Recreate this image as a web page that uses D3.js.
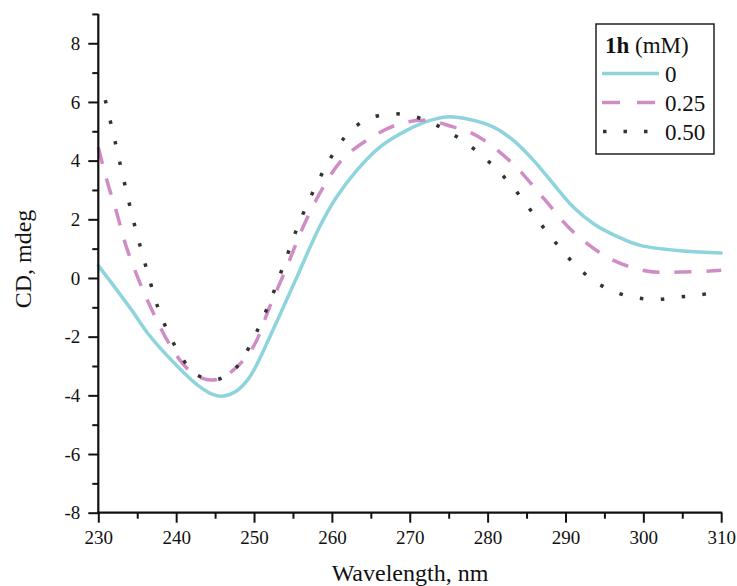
<!DOCTYPE html>
<html><head><meta charset="utf-8">
<script src="https://cdn.jsdelivr.net/npm/d3@7/dist/d3.min.js"></script>
<style>body{margin:0;background:#fff}svg{display:block}</style>
</head><body>
<svg id="chart" width="737" height="586"></svg>
<script>
const wl0 = [230, 232.1, 234.3, 236.4, 238.6, 240.7, 242.8, 244.6, 245.9, 247.6, 249.3, 250.3, 252.9, 255.5, 258.3, 260.6, 263.2, 266.2, 269.6, 272.6, 274.8, 277.7, 280.7, 283.3, 285.9, 288.4, 291.0, 293.6, 296.6, 299.6, 305.1, 310];
const cd0 = [0.42, -0.31, -1.10, -1.9, -2.58, -3.15, -3.66, -3.96, -4.03, -3.88, -3.43, -2.98, -1.5, 0.03, 1.68, 2.76, 3.67, 4.47, 5.03, 5.37, 5.49, 5.4, 5.15, 4.69, 4.01, 3.22, 2.42, 1.85, 1.42, 1.11, 0.92, 0.85];
const wl1 = [230, 231.1, 232.4, 233.6, 235.4, 237.1, 239.2, 241.4, 243.5, 245.2, 247.3, 249.9, 252.0, 254.2, 256.3, 258.9, 261.5, 265.3, 268.8, 272.2, 275.2, 278.6, 283.3, 287.2, 291.0, 295.7, 300.4, 304.7, 310];
const cd1 = [4.45, 3.33, 2.19, 1.06, -0.2, -1.21, -2.28, -3.08, -3.43, -3.46, -3.15, -2.35, -0.99, 0.37, 1.74, 3.10, 4.08, 4.83, 5.26, 5.37, 5.18, 4.85, 3.88, 2.71, 1.57, 0.66, 0.24, 0.2, 0.26];
const wl2 = [230.9, 232.2, 233.4, 234.7, 236.1, 237.7, 238.8, 240.3, 242.4, 245.2, 247.9, 249.5, 251.9, 253.9, 255.9, 258.3, 259.7, 261.5, 264.0, 266.7, 269.4, 272.1, 274.8, 277.5, 280.2, 282.7, 284.8, 286.8, 288.9, 291.2, 293.9, 296.6, 299.2, 301.9, 304.6, 307.3, 310];
const cd2 = [6.06, 4.6, 3.19, 1.76, 0.4, -1.04, -1.75, -2.52, -3.26, -3.46, -3.0, -2.29, -0.9, 0.51, 1.94, 3.33, 4.03, 4.75, 5.34, 5.57, 5.57, 5.37, 5.01, 4.55, 3.95, 3.27, 2.57, 1.85, 1.15, 0.46, -0.14, -0.5, -0.68, -0.73, -0.65, -0.57, -0.46];
const seriesLabels = ["0", "0.25", "0.50"];
const xTicks = [230, 240, 250, 260, 270, 280, 290, 300, 310];
const yTicks = [-8, -6, -4, -2, 0, 2, 4, 6, 8];
const legendTitleBold = "1h";
const legendTitleRest = " (mM)";
const xLabel = "Wavelength, nm";
const yLabel = "CD, mdeg";

(function () {
const svg = d3.select("#chart");
const font = "'Liberation Serif','Times New Roman',serif";
const mLeft = 98.3, mRight = 721.2, mBottom = 512.7;
const x = d3.scaleLinear().domain([230, 310]).range([mLeft, mRight]);
const y = d3.scaleLinear().domain([-8, 9]).range([mBottom, mBottom - 17 * 29.34]);

const styles = [
  {color: "#8dd4dd", dash: null, cap: "round"},
  {color: "#d08cc4", dash: "17,15", cap: "butt"},
  {color: "#333333", dash: "3.5,17.5", cap: "butt"}
];
const data = [[wl0, cd0], [wl1, cd1], [wl2, cd2]];

const line = d3.line().x(d => x(d[0])).y(d => y(d[1])).curve(d3.curveCatmullRom.alpha(0.5));
data.forEach((s, i) => {
  const pts = s[0].map((w, j) => [w, s[1][j]]);
  svg.append("path").datum(pts).attr("d", line)
    .attr("fill", "none").attr("stroke", styles[i].color)
    .attr("stroke-width", 3.5).attr("stroke-linecap", styles[i].cap)
    .attr("stroke-linejoin", "round")
    .attr("stroke-dasharray", styles[i].dash);
});

const fmt = d => String(d);
const xAxisMinor = d3.axisBottom(x).tickValues(d3.range(235, 310, 10)).tickSize(6).tickFormat("");
const xAxis = d3.axisBottom(x).tickValues(xTicks).tickSize(10).tickPadding(8).tickFormat(fmt);
const gx = svg.append("g").attr("transform", `translate(0,${mBottom})`).call(xAxisMinor);
const gx2 = svg.append("g").attr("transform", `translate(0,${mBottom})`).call(xAxis);
[gx, gx2].forEach(g => {
  g.select(".domain").remove();
  g.selectAll("line").attr("stroke", "#111").attr("stroke-width", 2);
  g.selectAll("text").attr("font-family", font).attr("font-size", 19).attr("fill", "#111");
});
svg.append("line").attr("x1", mLeft - 1).attr("x2", mRight + 1).attr("y1", mBottom).attr("y2", mBottom)
  .attr("stroke", "#111").attr("stroke-width", 2.2);

const yAxisMinor = d3.axisLeft(y).tickValues(d3.range(-7, 10, 2)).tickSize(6).tickFormat("");
const yAxis = d3.axisLeft(y).tickValues(yTicks).tickSize(10).tickPadding(8).tickFormat(fmt);
const gy = svg.append("g").attr("transform", `translate(${mLeft},0)`).call(yAxisMinor);
const gy2 = svg.append("g").attr("transform", `translate(${mLeft},0)`).call(yAxis);
[gy, gy2].forEach(g => {
  g.select(".domain").remove();
  g.selectAll("line").attr("stroke", "#111").attr("stroke-width", 2);
  g.selectAll("text").attr("font-family", font).attr("font-size", 19).attr("fill", "#111");
});
svg.append("line").attr("x1", mLeft).attr("x2", mLeft).attr("y1", y(9)).attr("y2", mBottom + 1)
  .attr("stroke", "#111").attr("stroke-width", 2.2);

svg.append("text").attr("x", 410).attr("y", 581).attr("text-anchor", "middle")
  .attr("font-family", font).attr("font-size", 24).attr("fill", "#111").text(xLabel);
svg.append("text").attr("transform", `translate(31,259) rotate(-90)`).attr("text-anchor", "middle")
  .attr("font-family", font).attr("font-size", 24).attr("fill", "#111").text(yLabel);

const lg = svg.append("g");
lg.append("rect").attr("x", 596).attr("y", 24).attr("width", 118).attr("height", 130)
  .attr("fill", "#fff").attr("stroke", "#222").attr("stroke-width", 1.5);
const title = lg.append("text").attr("x", 605).attr("y", 53).attr("font-family", font)
  .attr("font-size", 23).attr("fill", "#111");
title.append("tspan").attr("font-weight", "bold").text(legendTitleBold);
title.append("tspan").text(legendTitleRest);
seriesLabels.forEach((lab, i) => {
  const yy = 73.5 + i * 29;
  lg.append("line").attr("x1", 602).attr("x2", 659).attr("y1", yy).attr("y2", yy)
    .attr("stroke", styles[i].color).attr("stroke-width", 3.5)
    .attr("stroke-dasharray", i === 1 ? "18,17" : (i === 2 ? "3.5,17" : null))
    .attr("stroke-dashoffset", i === 2 ? -1 : 0);
  lg.append("text").attr("x", 665).attr("y", yy + 8.5).attr("font-family", font)
    .attr("font-size", 23).attr("fill", "#111").text(lab);
});
})();
</script>
</body></html>
